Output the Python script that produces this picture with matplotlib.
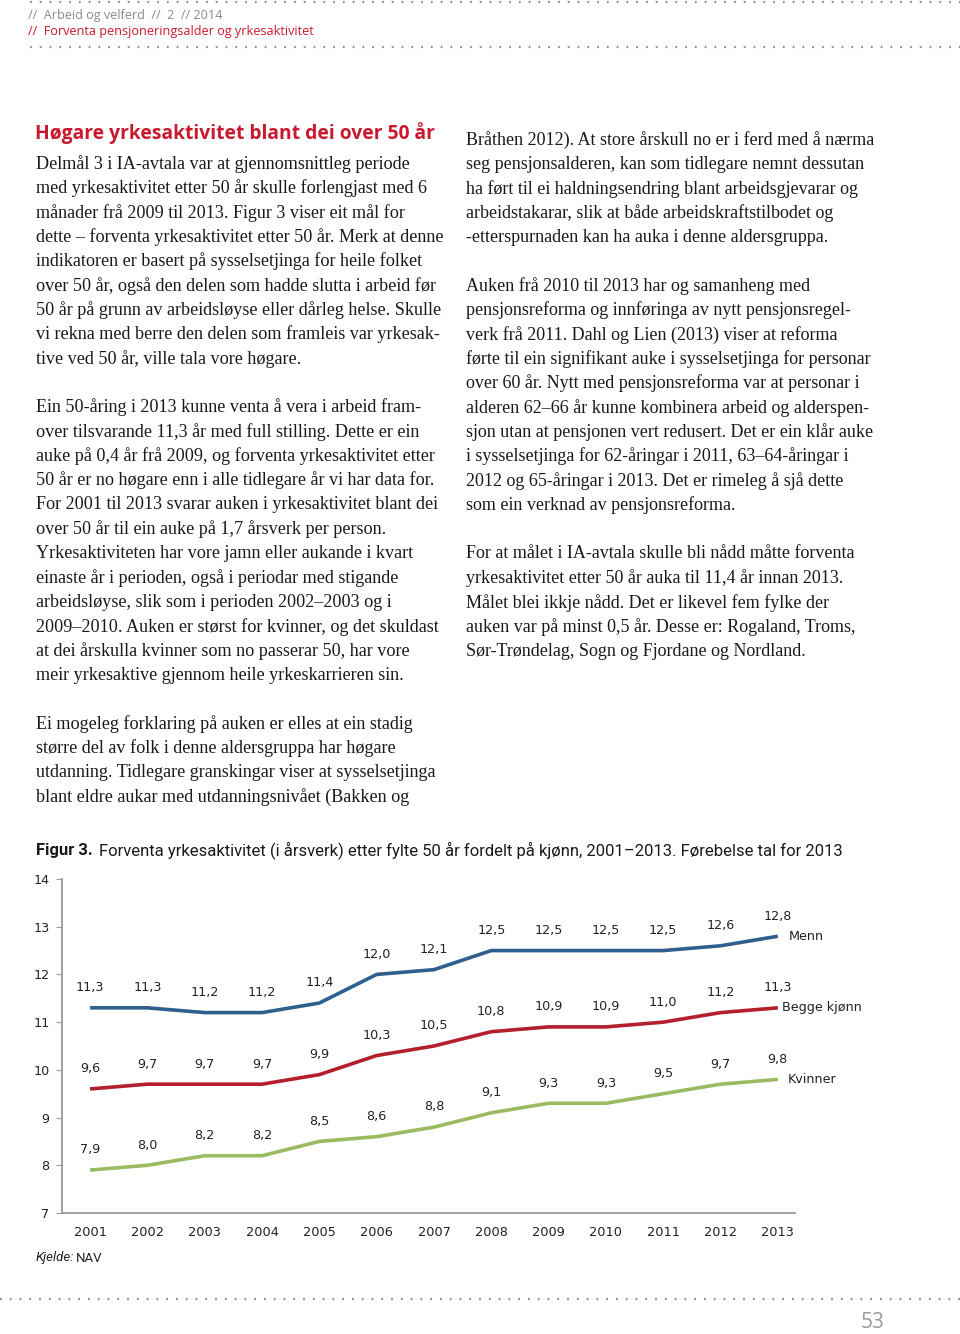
import matplotlib
matplotlib.use('Agg')
import matplotlib.pyplot as plt
from matplotlib.lines import Line2D

W, H = 960, 1334

years = list(range(2001, 2014))
menn = [11.3, 11.3, 11.2, 11.2, 11.4, 12.0, 12.1, 12.5, 12.5, 12.5, 12.5, 12.6, 12.8]
begge = [9.6, 9.7, 9.7, 9.7, 9.9, 10.3, 10.5, 10.8, 10.9, 10.9, 11.0, 11.2, 11.3]
kvinner = [7.9, 8.0, 8.2, 8.2, 8.5, 8.6, 8.8, 9.1, 9.3, 9.3, 9.5, 9.7, 9.8]
series_names = ['Menn', 'Begge kjønn', 'Kvinner']
yticks = [7, 8, 9, 10, 11, 12, 13, 14]

header_1 = '//  Arbeid og velferd  //  2  // 2014'
header_2 = '//  Forventa pensjoneringsalder og yrkesaktivitet'
title = 'Høgare yrkesaktivitet blant dei over 50 år'
caption_bold = 'Figur 3.'
caption = 'Forventa yrkesaktivitet (i årsverk) etter fylte 50 år fordelt på kjønn, 2001–2013. Førebelse tal for 2013'

left_col = [
    'Delmål 3 i IA-avtala var at gjennomsnittleg periode',
    'med yrkesaktivitet etter 50 år skulle forlengjast med 6',
    'månader frå 2009 til 2013. Figur 3 viser eit mål for',
    'dette – forventa yrkesaktivitet etter 50 år. Merk at denne',
    'indikatoren er basert på sysselsetjinga for heile folket',
    'over 50 år, også den delen som hadde slutta i arbeid før',
    '50 år på grunn av arbeidsløyse eller dårleg helse. Skulle',
    'vi rekna med berre den delen som framleis var yrkesak-',
    'tive ved 50 år, ville tala vore høgare.',
    '',
    'Ein 50-åring i 2013 kunne venta å vera i arbeid fram-',
    'over tilsvarande 11,3 år med full stilling. Dette er ein',
    'auke på 0,4 år frå 2009, og forventa yrkesaktivitet etter',
    '50 år er no høgare enn i alle tidlegare år vi har data for.',
    'For 2001 til 2013 svarar auken i yrkesaktivitet blant dei',
    'over 50 år til ein auke på 1,7 årsverk per person.',
    'Yrkesaktiviteten har vore jamn eller aukande i kvart',
    'einaste år i perioden, også i periodar med stigande',
    'arbeidsløyse, slik som i perioden 2002–2003 og i',
    '2009–2010. Auken er størst for kvinner, og det skuldast',
    'at dei årskulla kvinner som no passerar 50, har vore',
    'meir yrkesaktive gjennom heile yrkeskarrieren sin.',
    '',
    'Ei mogeleg forklaring på auken er elles at ein stadig',
    'større del av folk i denne aldersgruppa har høgare',
    'utdanning. Tidlegare granskingar viser at sysselsetjinga',
    'blant eldre aukar med utdanningsnivået (Bakken og',
]

right_col = [
    'Bråthen 2012). At store årskull no er i ferd med å nærma',
    'seg pensjonsalderen, kan som tidlegare nemnt dessutan',
    'ha ført til ei haldningsendring blant arbeidsgjevarar og',
    'arbeidstakarar, slik at både arbeidskraftstilbodet og',
    '-etterspurnaden kan ha auka i denne aldersgruppa.',
    '',
    'Auken frå 2010 til 2013 har og samanheng med',
    'pensjonsreforma og innføringa av nytt pensjonsregel-',
    'verk frå 2011. Dahl og Lien (2013) viser at reforma',
    'førte til ein signifikant auke i sysselsetjinga for personar',
    'over 60 år. Nytt med pensjonsreforma var at personar i',
    'alderen 62–66 år kunne kombinera arbeid og alderspen-',
    'sjon utan at pensjonen vert redusert. Det er ein klår auke',
    'i sysselsetjinga for 62-åringar i 2011, 63–64-åringar i',
    '2012 og 65-åringar i 2013. Det er rimeleg å sjå dette',
    'som ein verknad av pensjonsreforma.',
    '',
    'For at målet i IA-avtala skulle bli nådd måtte forventa',
    'yrkesaktivitet etter 50 år auka til 11,4 år innan 2013.',
    'Målet blei ikkje nådd. Det er likevel fem fylke der',
    'auken var på minst 0,5 år. Desse er: Rogaland, Troms,',
    'Sør-Trøndelag, Sogn og Fjordane og Nordland.',
]

red = '#c8192e'
grey = '#8a8a8a'
colors = ['#2f5f8c', '#b31f2d', '#9bbb62']
name_dx = [11, 4, 10]


def fx(x):
    return x / W


def fy(y):
    return 1 - y / H


fig = plt.figure(figsize=(W / 100, H / 100), dpi=100)

# dotted rules
for x0, y in [(30, 2), (30, 47), (0, 1299)]:
    fig.add_artist(Line2D([fx(x0), 1], [fy(y), fy(y)], color='#909090',
                          lw=1.6, linestyle=(0, (0.8, 3.6))))

fig.text(fx(28), fy(15), header_1, color=grey, fontsize=9.05,
         family='Open Sans', va='center')
fig.text(fx(28), fy(31), header_2, color=red, fontsize=9.05,
         family='Open Sans', va='center')

fig.text(fx(35), fy(133), title, color=red, fontsize=13.9,
         family='Open Sans', weight='bold', va='center')

step = 24.35
for i, line in enumerate(left_col):
    fig.text(fx(36), fy(164 + i * step), line, fontsize=13.05,
             family='Liberation Serif', color='#1a1a1a', va='center')
for i, line in enumerate(right_col):
    fig.text(fx(466), fy(140 + i * step), line, fontsize=12.95,
             family='Liberation Serif', color='#1a1a1a', va='center')

fig.text(fx(36), fy(850), caption_bold, fontsize=12.0, family='Roboto',
         weight='bold', color='#1a1a1a', va='center')
fig.text(fx(99), fy(850), caption, fontsize=12.0, family='Roboto',
         color='#1a1a1a', va='center')

# chart
ax = fig.add_axes([fx(62), fy(1213), fx(795 - 62), (1213 - 879) / H])
for vals, col, name, dx in zip([menn, begge, kvinner], colors,
                               series_names, name_dx):
    ax.plot(years, vals, color=col, lw=2.6, solid_capstyle='butt')
    for xv, yv in zip(years, vals):
        ax.annotate(f'{yv:.1f}'.replace('.', ','), (xv, yv),
                    xytext=(0, 14.5), textcoords='offset points',
                    ha='center', va='center', fontsize=9.2, color='#222222')
    ax.annotate(name, (years[-1], vals[-1]), xytext=(dx * 0.72, 0),
                textcoords='offset points', ha='left', va='center',
                fontsize=9.2, color='#222222')

ax.set_xlim(2000.51, 2013.3)
ax.set_ylim(7, 14)
ax.set_yticks(yticks)
ax.set_xticks(years)
ax.set_xticklabels([str(y) for y in years])
for s in ['top', 'right']:
    ax.spines[s].set_visible(False)
for s in ['left', 'bottom']:
    ax.spines[s].set_color('#9a9a9a')
    ax.spines[s].set_linewidth(1.3)
ax.tick_params(axis='y', length=4, color='#9a9a9a', labelsize=9.2,
               labelcolor='#222222', pad=5)
ax.tick_params(axis='x', length=0, labelsize=9.3, labelcolor='#222222',
               pad=9)
ax.patch.set_visible(False)

fig.text(fx(36), fy(1258), 'Kjelde:', fontsize=9.5, family='Roboto',
         style='italic', color='#222222', va='center')
fig.text(fx(76), fy(1258), 'NAV', fontsize=9.5, family='Roboto',
         color='#222222', va='center')

fig.text(fx(873), fy(1322), '53', fontsize=15, family='Open Sans',
         color='#999999', ha='center', va='center')

fig.savefig('out.png', dpi=100)
